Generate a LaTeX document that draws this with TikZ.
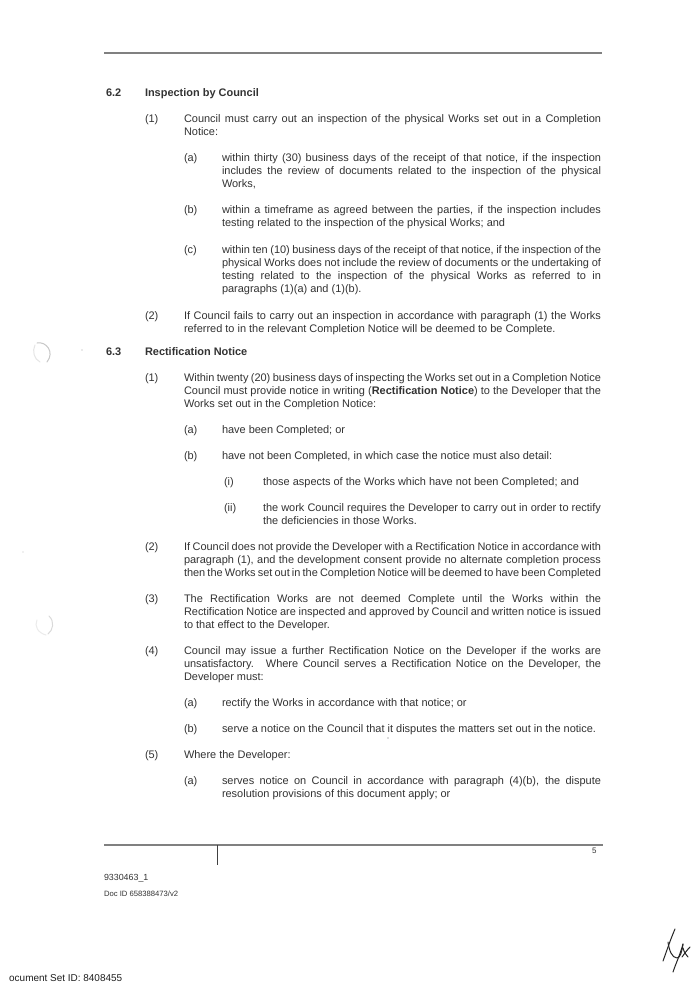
\documentclass[tikz,border=0pt]{standalone}
\usepackage{fontspec}
\setmainfont{Liberation Sans}
\newcounter{linecnt}
\newlength{\jw}
\tikzset{linetext/.style={anchor=base west,inner sep=0pt,outer sep=0pt,text=black!80,font=\fontsize{11}{13}\selectfont}}
\newcommand{\tl}[3]{\stepcounter{linecnt}\node[linetext] (t\thelinecnt) at (#1,#2) {#3};}
\newcommand{\jl}[3]{\stepcounter{linecnt}\pgfmathsetlength{\jw}{(601-#1)*1bp}\node[linetext] (t\thelinecnt) at (#1,#2) {\spaceskip=0.278em plus 3em minus 0.2em\makebox[\jw][s]{#3}};}
\begin{document}
\begin{tikzpicture}[x=1bp,y=-1bp]
\useasboundingbox (0,0) rectangle (694,990);
\fill[white] (0,0) rectangle (694,990);
% rules
\coordinate (ta) at (104,53); \coordinate (tb) at (602,53);
\draw[black!50,line width=1.1bp] (ta) -- (tb);
\coordinate (fa) at (104,845); \coordinate (fb) at (603,845);
\coordinate (fc) at (217,845); \coordinate (fd) at (217,865);
\draw[black!50,line width=1.1bp] (fa) -- (fb);
\draw[black!75,line width=1bp] (fc) -- (fd);
% 6.2
\tl{106}{96}{\textbf{6.2}}
\tl{145}{96}{\textbf{Inspection by Council}}
\tl{145}{122}{(1)}
\jl{184}{122}{Council must carry out an inspection of the physical Works set out in a Completion}
\tl{184}{135}{Notice:}
\tl{184}{161}{(a)}
\jl{222}{161}{within thirty (30) business days of the receipt of that notice, if the inspection}
\jl{222}{174}{includes the review of documents related to the inspection of the physical}
\tl{222}{187}{Works,}
\tl{184}{213.5}{(b)}
\jl{222}{213.5}{within a timeframe as agreed between the parties, if the inspection includes}
\tl{222}{226.5}{testing related to the inspection of the physical Works; and}
\tl{184}{253}{(c)}
\jl{222}{253}{within ten (10) business days of the receipt of that notice, if the inspection of the}
\jl{222}{266.5}{physical Works does not include the review of documents or the undertaking of}
\jl{222}{279.5}{testing related to the inspection of the physical Works as referred to in}
\tl{222}{292.5}{paragraphs (1)(a) and (1)(b).}
\tl{145}{319}{(2)}
\jl{184}{319}{If Council fails to carry out an inspection in accordance with paragraph (1) the Works}
\tl{184}{332}{referred to in the relevant Completion Notice will be deemed to be Complete.}
% 6.3
\tl{106}{355}{\textbf{6.3}}
\tl{145}{355}{\textbf{Rectification Notice}}
\tl{145}{381.5}{(1)}
\jl{184}{381.5}{Within twenty (20) business days of inspecting the Works set out in a Completion Notice}
\jl{184}{394.5}{Council must provide notice in writing (\textbf{Rectification Notice}) to the Developer that the}
\tl{184}{407.5}{Works set out in the Completion Notice:}
\tl{184}{433.5}{(a)}
\tl{222}{433.5}{have been Completed; or}
\tl{184}{459.5}{(b)}
\tl{222}{459.5}{have not been Completed, in which case the notice must also detail:}
\tl{224}{485.5}{(i)}
\tl{263}{485.5}{those aspects of the Works which have not been Completed; and}
\tl{224}{511.5}{(ii)}
\jl{263}{511.5}{the work Council requires the Developer to carry out in order to rectify}
\tl{263}{524.5}{the deficiencies in those Works.}
\tl{145}{550.5}{(2)}
\jl{184}{550.5}{If Council does not provide the Developer with a Rectification Notice in accordance with}
\jl{184}{563.5}{paragraph (1), and the development consent provide no alternate completion process}
\jl{184}{576.5}{then the Works set out in the Completion Notice will be deemed to have been Completed}
\tl{145}{602.5}{(3)}
\jl{184}{602.5}{The Rectification Works are not deemed Complete until the Works within the}
\jl{184}{615.5}{Rectification Notice are inspected and approved by Council and written notice is issued}
\tl{184}{628.5}{to that effect to the Developer.}
\tl{145}{654.5}{(4)}
\jl{184}{654.5}{Council may issue a further Rectification Notice on the Developer if the works are}
\jl{184}{667.5}{unsatisfactory.\hspace{0.3em} Where Council serves a Rectification Notice on the Developer, the}
\tl{184}{680.5}{Developer must:}
\tl{184}{706.5}{(a)}
\tl{222}{706.5}{rectify the Works in accordance with that notice; or}
\tl{184}{732.5}{(b)}
\tl{222}{732.5}{serve a notice on the Council that it disputes the matters set out in the notice.}
\tl{145}{758.5}{(5)}
\tl{184}{758.5}{Where the Developer:}
\tl{184}{784.5}{(a)}
\jl{222}{784.5}{serves notice on Council in accordance with paragraph (4)(b), the dispute}
\tl{222}{797.5}{resolution provisions of this document apply; or}
% footer
\node[linetext,font=\fontsize{8}{10}\selectfont] (pg) at (592,853) {5};
\node[linetext,font=\fontsize{8.9}{10}\selectfont] (fid) at (104,880) {9330463\_1};
\node[linetext,font=\fontsize{7.7}{8}\selectfont] (did) at (104,896.5) {Doc ID 658388473/v2};
\begin{scope}
\clip (9,960) rectangle (200,990);
\node[linetext,font=\fontsize{10}{11}\selectfont,text=black!88] (dsid) at (2,981.5) {Document Set ID: 8408455};
\end{scope}
% signature
\draw[black!85,line width=1bp,line cap=round,line join=round]
 (663,961) .. controls (667,950) and (671,938) .. (675,929);
\draw[black!85,line width=1bp,line cap=round,line join=round]
 (668,942) .. controls (669,950) and (672,958) .. (677,958)
 .. controls (680,958) and (682,952) .. (683,944);
\draw[black!85,line width=1bp,line cap=round]
 (683,944) .. controls (680,955) and (676,963) .. (673,972);
\draw[black!85,line width=1bp,line cap=round]
 (682,957) .. controls (685,953) and (687,950) .. (690,947);
\draw[black!85,line width=1bp,line cap=round]
 (683,948) .. controls (684,952) and (686,955) .. (688,957);
% scan marks
\draw[black!22,line width=1bp,line cap=round] (37,343) .. controls (46,341) and (55,352) .. (47,362);
\draw[black!10,line width=1bp,line cap=round] (35,345) .. controls (32,351) and (34,359) .. (40,362);
\draw[black!15,line width=1bp,line cap=round] (49,616) .. controls (55,622) and (53,630) .. (48,634);
\draw[black!8,line width=1bp,line cap=round] (37,620) .. controls (34,626) and (38,633) .. (46,635);
\fill[black!35] (82,350) circle (0.7);
\fill[black!25] (23,552) circle (0.7);
\fill[black!60] (388,738) circle (0.6);
\end{tikzpicture}
\end{document}
